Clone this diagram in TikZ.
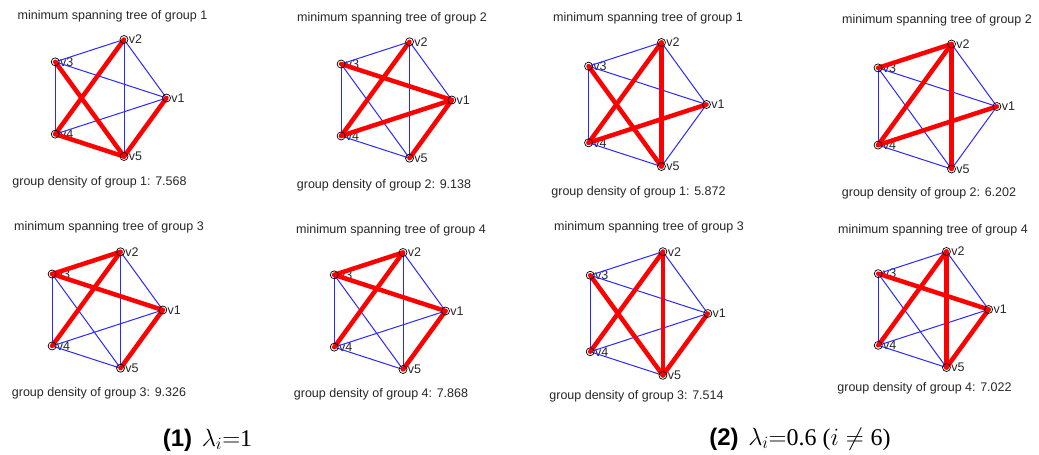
\documentclass[tikz,border=0pt]{standalone}
\usepackage{fontspec}
\setmainfont{Liberation Serif}
\setsansfont{Liberation Sans}
\usepackage{amsmath, amssymb}
\usepackage{tikz}
\usetikzlibrary{calc}
\definecolor{edgeblue}{RGB}{40,40,255}

\begin{document}
\begin{tikzpicture}[x=1pt, y=-1pt,
    vertex/.style={circle, inner sep=0pt, minimum size=8pt},
    vlabel/.style={font=\sffamily\fontsize{12.5}{14}\selectfont, inner sep=0.5pt, text=black!85},
    plaintext/.style={font=\sffamily\fontsize{12.5}{14}\selectfont, inner sep=0pt, text=black!85},
    blueedge/.style={draw=edgeblue, line width=1pt},
    rededge/.style={draw=red, line width=4.5pt, line cap=round},
    ring/.style={draw=black, line width=0.7pt}]
    \useasboundingbox (0,0) rectangle (1039,455);
    \foreach \g/\cx/\cy/\rad/\tx/\ty/\dx/\dy/\grp/\dens/\mst in {
        1/105/98/61.5/112.5/16/99.5/182/1/7.568/{2/4,3/5,4/5,5/1},
        2/390.6/100/61.2/392/18/384/185/2/9.138/{2/4,3/1,4/1,1/5},
        3/641.3/104.5/65.2/648/18/638.5/192/1/5.872/{2/4,3/5,2/5,4/1},
        4/931.2/106.5/65.7/937/20/929/193/2/6.202/{3/2,2/4,2/5,4/1},
        5/101.6/310/61.2/109/227/99/393/3/9.326/{3/2,2/4,3/1,1/5},
        6/384/311/61.5/391/230/381/394/4/7.868/{3/2,2/4,3/1,1/5},
        7/642.8/313.5/65/649/227/636.5/396/3/7.514/{2/4,3/5,2/5,1/5},
        8/927.6/309.5/61/933/230/924.5/388/4/7.022/{2/4,3/1,2/5,1/5}}
    {
        \foreach \k in {1,...,5}
            \node[vertex, label={[vlabel]right:v\k}] (p\g-v\k) at ($(\cx,\cy)+({-72*(\k-1)}:\rad)$) {};
        \foreach \ea/\eb in {1/2,1/3,1/4,1/5,2/3,2/4,2/5,3/4,3/5,4/5}
            \draw[blueedge] (p\g-v\ea.center) -- (p\g-v\eb.center);
        \foreach \ea/\eb in \mst
            \draw[rededge] (p\g-v\ea.center) -- (p\g-v\eb.center);
        \foreach \k in {1,...,5}
            \draw[ring] (p\g-v\k.center) circle (4pt);
        \node[plaintext] (t\g) at (\tx,\ty) {minimum spanning tree of group \grp};
        \node[plaintext] (d\g) at (\dx,\dy) {group density of group \grp: \dens};
    }
    \node[font=\fontsize{24}{28}\selectfont, inner sep=0pt] (cap1) at (207.5,440)
        {\sffamily\bfseries (1)\hspace{0.4em}\rmfamily\mdseries$\lambda_i{=}$1};
    \node[font=\fontsize{24}{28}\selectfont, inner sep=0pt] (cap2) at (800,439)
        {\sffamily\bfseries (2)\hspace{0.4em}\rmfamily\mdseries$\lambda_i{=}$0.6 ($i\neq{}$6)};
\end{tikzpicture}
\end{document}
